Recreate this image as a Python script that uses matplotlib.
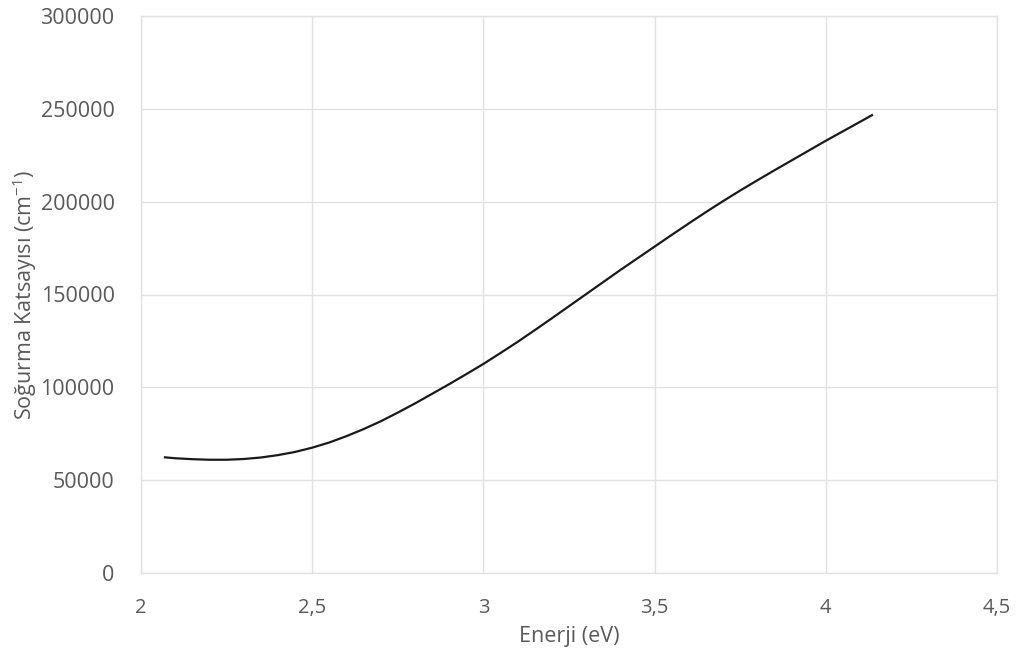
# coding: utf-8

import numpy as np
import matplotlib
matplotlib.use('agg')
import matplotlib.pyplot as plt

# photon energy (eV) and absorption coefficient (cm^-1)
enerji = [2.07, 2.10, 2.15, 2.20, 2.25, 2.30, 2.35, 2.40, 2.45, 2.50,
          2.55, 2.60, 2.65, 2.70, 2.75, 2.80, 2.85, 2.90, 2.95, 3.00,
          3.05, 3.10, 3.15, 3.20, 3.25, 3.30, 3.35, 3.40, 3.45, 3.50,
          3.55, 3.60, 3.65, 3.70, 3.75, 3.80, 3.85, 3.90, 3.95, 4.00,
          4.05, 4.10, 4.135]
sogurma = [62300, 61800, 61300, 61000, 61000, 61400, 62200, 63500, 65200, 67500,
           70300, 73700, 77500, 81700, 86400, 91300, 96500, 101700, 107100, 112600,
           118500, 124500, 130800, 137200, 143700, 150200, 156700, 163200, 169500, 175800,
           182100, 188300, 194400, 200300, 206000, 211500, 216900, 222200, 227500, 232800,
           237900, 243000, 246600]

xticks = [2, 2.5, 3, 3.5, 4, 4.5]
xticklabels = ['2', '2,5', '3', '3,5', '4', '4,5']
yticks = [0, 50000, 100000, 150000, 200000, 250000, 300000]

plt.rcParams['font.family'] = ['Open Sans', 'DejaVu Sans']
plt.rcParams['mathtext.fontset'] = 'custom'
plt.rcParams['mathtext.rm'] = 'Open Sans'
plt.rcParams['mathtext.default'] = 'regular'

grid_color = '#e2e2e2'
text_color = '#595959'

fig = plt.figure(figsize=(10.19, 6.6), dpi=100)
ax = fig.add_axes([141 / 1019, 1 - 573 / 660, 856 / 1019, 557 / 660])

ax.plot(enerji, sogurma, color='#1a1a1a', linewidth=1.6, zorder=3)

ax.set_xlim(2, 4.5)
ax.set_ylim(0, 300000)
ax.set_xticks(xticks)
ax.set_xticklabels(xticklabels)
ax.set_yticks(yticks)
ax.set_yticklabels([str(v) for v in yticks])

ax.grid(True, color=grid_color, linewidth=1.0, zorder=0)
for side in ['left', 'right', 'top', 'bottom']:
    ax.spines[side].set_color(grid_color)
    ax.spines[side].set_linewidth(1.0)

ax.tick_params(axis='x', length=0, pad=18, labelsize=14.5, labelcolor=text_color)
ax.tick_params(axis='y', length=0, pad=19, labelsize=15.5, labelcolor=text_color)

ax.set_xlabel('Enerji (eV)', fontsize=15.5, color=text_color, labelpad=6)
ax.set_ylabel('Soğurma Katsayısı (cm$^{-1}$)', fontsize=15.5, color=text_color, labelpad=1)

plt.savefig('out.png', dpi=100)
